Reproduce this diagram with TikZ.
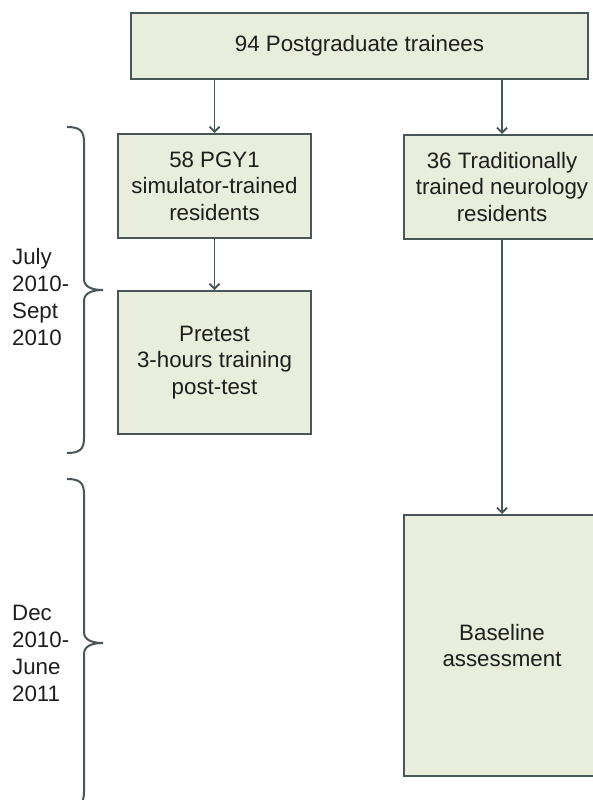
\documentclass[tikz,border=0pt]{standalone}
\usepackage{fontspec}
\setmainfont{Liberation Sans}
\usetikzlibrary{arrows.meta}
\definecolor{boxfill}{RGB}{233,237,219}
\definecolor{boxline}{RGB}{72,86,90}
\definecolor{txt}{RGB}{30,30,30}
\begin{document}
\begin{tikzpicture}[x=1pt,y=-1pt,
  box/.style={draw=boxline,line width=2pt,fill=boxfill,align=center,inner sep=0pt,text=txt,
    font=\fontsize{22.3}{26.5}\selectfont},
  arr/.style={draw=boxline,line width=1.8pt,-{Straight Barb[length=5pt,width=10pt]}},
  brace/.style={draw=boxline,line width=2pt},
  lbl/.style={align=left,anchor=west,inner sep=0pt,text=txt,font=\fontsize{22.3}{27}\selectfont}]
\clip (0,0) rectangle (593,800);
\fill[white] (0,0) rectangle (593,800);
\node[box,minimum width=457pt,minimum height=66pt] (top) at (359.5,46) {94 Postgraduate trainees};
\node[box,minimum width=193pt,minimum height=104pt] (pgy) at (214.5,186) {58 PGY1\\simulator-trained\\residents};
\node[box,minimum width=193pt,minimum height=143pt] (pre) at (214.5,362.5) {Pretest\\3-hours training\\post-test};
\node[box,minimum width=196pt,minimum height=104pt] (trad) at (502,187) {36 Traditionally\\trained neurology\\residents};
\node[box,minimum width=196pt,minimum height=261pt] (base) at (502,645.5) {Baseline\\assessment};
\draw[arr] (top.south -| pgy.north) -- (pgy.north);
\draw[arr] (top.south -| trad.north) -- (trad.north);
\draw[arr] (pgy.south) -- (pre.north);
\draw[arr] (trad.south) -- (base.north);
% braces
\draw[brace] (67,127) .. controls (80,127) and (84,131) .. (84,142) -- (84,279)
  .. controls (84,287) and (92,290) .. (103,290)
  .. controls (92,290) and (84,293) .. (84,301) -- (84,438)
  .. controls (84,449) and (80,453) .. (67,453);
\draw[brace] (67,479) .. controls (80,479) and (84,483) .. (84,494) -- (84,632)
  .. controls (84,640) and (92,643) .. (103,643)
  .. controls (92,643) and (84,646) .. (84,654) -- (84,792)
  .. controls (84,803) and (80,807) .. (67,807);
\node[lbl] (l1) at (12,297) {July\\2010-\\Sept\\2010};
\node[lbl] (l2) at (12,653) {Dec\\2010-\\June\\2011};
\end{tikzpicture}
\end{document}
